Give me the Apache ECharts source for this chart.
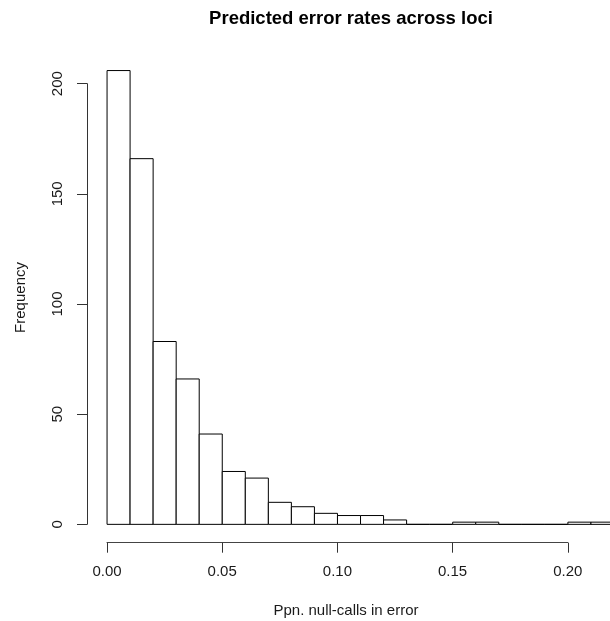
<!DOCTYPE html>
<html>
<head>
<meta charset="utf-8">
<script src="https://cdn.jsdelivr.net/npm/echarts@6/dist/echarts.min.js"></script>
<style>
  html, body { margin: 0; padding: 0; background: #fff; }
  #main { width: 610px; height: 621px; }
</style>
</head>
<body>
<div id="main"></div>
<script>
// histogram bins (left / right edges) and counts
const binLeft  = [0.00, 0.01, 0.02, 0.03, 0.04, 0.05, 0.06, 0.07, 0.08, 0.09, 0.10,
                  0.11, 0.12, 0.13, 0.14, 0.15, 0.16, 0.17, 0.18, 0.19, 0.20, 0.21]
const binRight = [0.01, 0.02, 0.03, 0.04, 0.05, 0.06, 0.07, 0.08, 0.09, 0.10, 0.11,
                  0.12, 0.13, 0.14, 0.15, 0.16, 0.17, 0.18, 0.19, 0.20, 0.21, 0.22]
const counts   = [206, 166, 83, 66, 41, 24, 21, 10, 8, 5, 4,
                  4, 2, 0, 0, 1, 1, 0, 0, 0, 1, 1]
const xTicks = [0.00, 0.05, 0.10, 0.15, 0.20]
const yTicks = [0, 50, 100, 150, 200]

const chartTitle = 'Predicted error rates across loci'
const xTitle = 'Ppn. null-calls in error'
const yTitle = 'Frequency'

const FONT = 'Liberation Sans, Arial, sans-serif'
const INK = '#1a1a1a'

let rows = binLeft.map((lo, i) => [lo, binRight[i], counts[i]])

let myChart = echarts.init(document.getElementById('main'))

let option = {
  animation: false,
  backgroundColor: '#fff',
  title: {
    text: chartTitle,
    left: 346,
    top: 4,
    textAlign: 'center',
    textStyle: { fontFamily: FONT, fontSize: 18.5, fontWeight: 'bold', color: '#000' }
  },
  grid: [
    // plot region (R usr area) - bars live here
    { left: 87, top: 52.4, right: 5, bottom: 78.5, outerBoundsMode: 'none', containLabel: false },
    // y axis, spans 0..200 only
    { left: 87, top: 83.7, width: 1, bottom: 96.7, outerBoundsMode: 'none', containLabel: false },
    // x axis, spans 0..0.20 only, drawn below the bars
    { left: 107, top: 541.7, width: 460.8, height: 1, outerBoundsMode: 'none', containLabel: false }
  ],
  xAxis: [
    {
      gridIndex: 0, type: 'value', min: -0.0087, max: 0.2161,
      axisLine: { show: false }, axisTick: { show: false },
      axisLabel: { show: false }, splitLine: { show: false },
      name: xTitle, nameLocation: 'middle', nameGap: 61,
      nameTextStyle: { fontFamily: FONT, fontSize: 15, color: INK }
    },
    {
      gridIndex: 1, type: 'value', show: false
    },
    {
      gridIndex: 2, type: 'value', min: xTicks[0], max: xTicks[xTicks.length - 1], interval: 0.05,
      position: 'bottom',
      axisLine: { show: true, onZero: false, lineStyle: { color: '#444', width: 1 } },
      axisTick: { show: true, length: 10, lineStyle: { color: '#333' } },
      axisLabel: {
        show: true, margin: 22, fontFamily: FONT, fontSize: 15, color: INK,
        showMinLabel: true, showMaxLabel: true,
        formatter: v => v.toFixed(2)
      },
      splitLine: { show: false }
    }
  ],
  yAxis: [
    {
      gridIndex: 0, type: 'value', min: -8.24, max: 214.24,
      axisLine: { show: false }, axisTick: { show: false },
      axisLabel: { show: false }, splitLine: { show: false },
      name: yTitle, nameLocation: 'middle', nameGap: 59,
      nameTextStyle: { fontFamily: FONT, fontSize: 15, color: INK }
    },
    {
      gridIndex: 1, type: 'value', min: yTicks[0], max: yTicks[yTicks.length - 1], interval: 50,
      position: 'left',
      axisLine: { show: true, onZero: false, lineStyle: { color: '#333', width: 1 } },
      axisTick: { show: true, length: 10, lineStyle: { color: '#333' } },
      axisLabel: {
        show: true, rotate: 90, margin: 22, fontFamily: FONT, fontSize: 15, color: INK,
        showMinLabel: true, showMaxLabel: true
      },
      splitLine: { show: false }
    },
    {
      gridIndex: 2, type: 'value', show: false
    }
  ],
  series: [{
    type: 'custom',
    xAxisIndex: 0,
    yAxisIndex: 0,
    clip: false,
    encode: { x: [0, 1], y: 2 },
    data: rows,
    renderItem: function (params, api) {
      let top = api.coord([api.value(0), api.value(2)])
      let bottom = api.coord([api.value(1), 0])
      return {
        type: 'rect',
        shape: { x: top[0], y: top[1], width: bottom[0] - top[0], height: bottom[1] - top[1] },
        style: { fill: '#fff', stroke: '#000', lineWidth: 1 }
      }
    }
  }]
}

myChart.setOption(option)
window.onresize = function () {
  myChart.resize()
}
</script>
</body>
</html>
